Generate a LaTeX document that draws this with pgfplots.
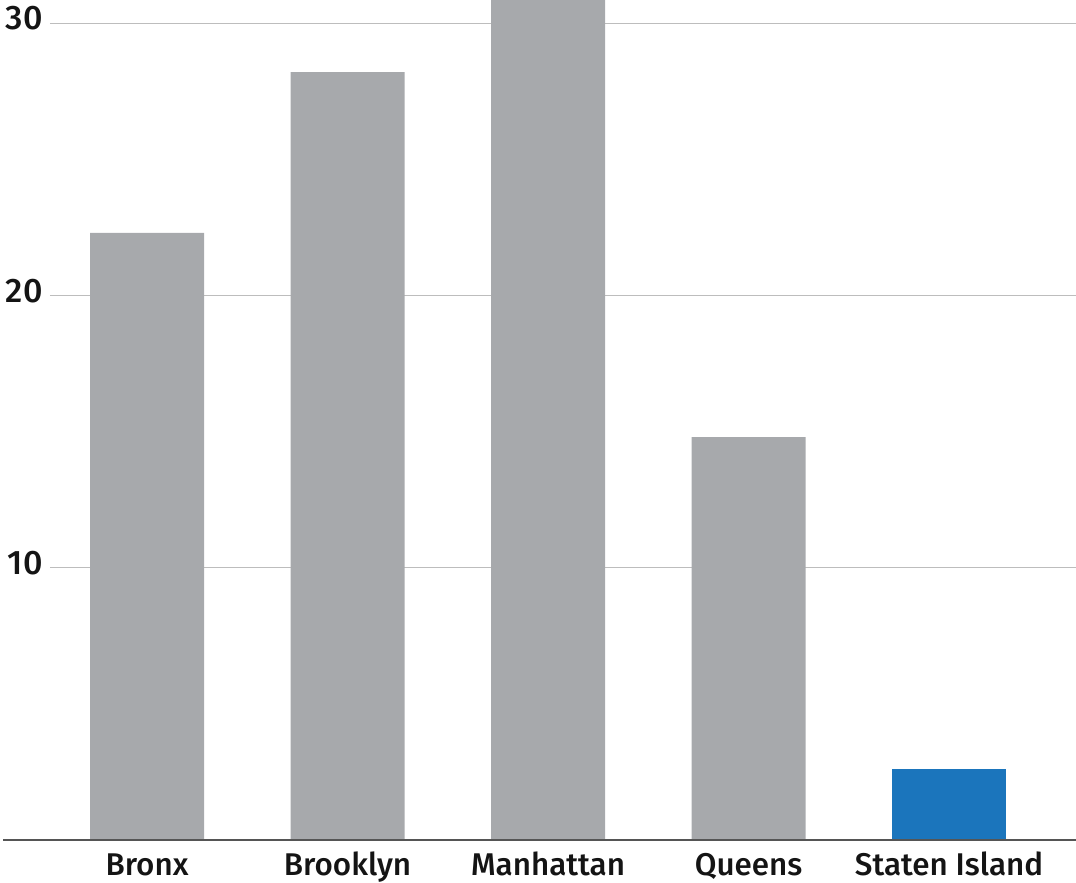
\documentclass[border=0pt]{standalone}
\usepackage{pgfplots}
\pgfplotsset{compat=1.18}
\usepackage{fontspec}
\setmainfont{Fira Sans}[UprightFont={* Medium}]
\definecolor{bargray}{HTML}{A7A9AC}
\definecolor{barblue}{HTML}{1B75BC}
\definecolor{gridgray}{HTML}{BDBDBD}
\definecolor{axisdark}{HTML}{555555}
\begin{document}
\begin{tikzpicture}
\begin{axis}[
  scale only axis,
  width=513pt, height=420pt,
  xmin=-0.484, xmax=4.633,
  ymin=0, ymax=30.85,
  axis line style={draw=none},
  tick style={draw=none},
  ytick={10,20,30},
  xtick={0,1,2,3,4},
  xticklabels={Bronx,Brooklyn,Manhattan,Queens,Staten Island},
  major tick length=0pt,
  ymajorgrids,
  grid style={gridgray, line width=0.6pt},
  /pgf/number format/assume math mode=true,
  yticklabel style={font=\fontsize{17}{17}\selectfont, text=black!92, anchor=east, inner sep=0pt, xshift=-3.5pt},
  xticklabel style={font=\fontsize{15.7}{16}\selectfont, text=black!92, anchor=base, inner sep=0pt, yshift=-17.8pt},
  typeset ticklabels with strut=false,
  ybar, bar width=57pt, bar shift=0pt,
  clip=true,
]
\addplot[draw=none, fill=bargray] coordinates {(0,22.3) (1,28.2) (2,31.5) (3,14.8)};
\addplot[draw=none, fill=barblue] coordinates {(4,2.6)};
\end{axis}
\draw[axisdark, line width=0.8pt] ([xshift=-23.5pt]current axis.south west) -- (current axis.south east);
\pgfresetboundingbox
\useasboundingbox ([xshift=-25pt, yshift=-21.5pt]current axis.south west) rectangle (current axis.north east);
\end{tikzpicture}
\end{document}
